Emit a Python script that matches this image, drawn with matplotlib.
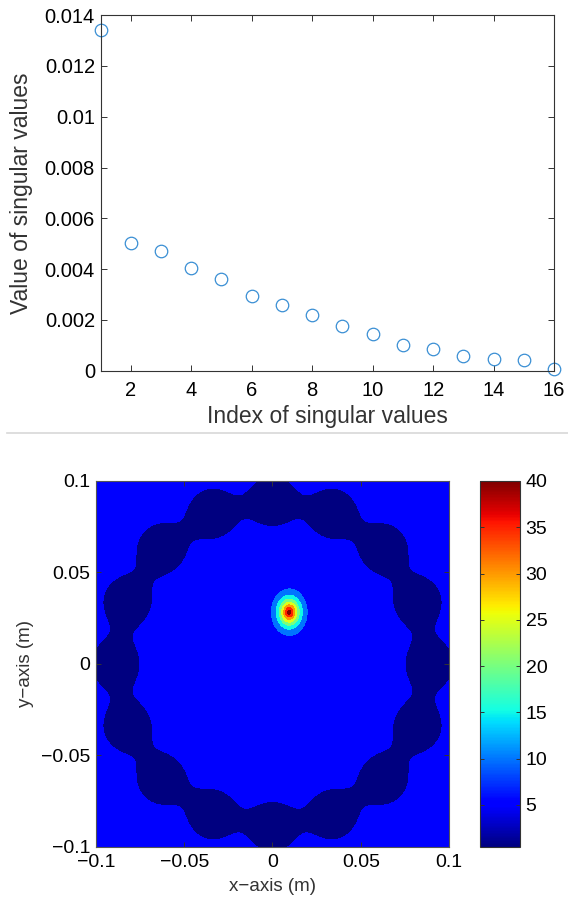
import numpy as np
import matplotlib
matplotlib.use('Agg')
import matplotlib.pyplot as plt
from matplotlib.colors import Normalize
from matplotlib.cm import ScalarMappable
from matplotlib.ticker import FuncFormatter
from matplotlib.lines import Line2D

plt.rcParams['font.family'] = ['Liberation Sans', 'DejaVu Sans']

# top panel: singular values
indices = np.arange(1, 17)
singular_values = [0.01341, 0.00501, 0.00472, 0.00404, 0.00360, 0.00294,
                   0.00257, 0.00218, 0.00177, 0.00146, 0.00101, 0.00084,
                   0.00059, 0.00045, 0.00041, 0.00008]
sv_xticks = [2, 4, 6, 8, 10, 12, 14, 16]
sv_yticks = [0, 0.002, 0.004, 0.006, 0.008, 0.01, 0.012, 0.014]

# bottom panel: imaging function on a 0.2 m x 0.2 m grid
grid_ticks = [-0.1, -0.05, 0, 0.05, 0.1]
field_levels = [0.45, 5, 10, 15, 20, 25, 30, 35, 40, 45]
cbar_ticks = [5, 10, 15, 20, 25, 30, 35, 40]
cbar_range = (0.45, 40)

background = 5.6          # level of the plain area
sensor_radius = 0.089     # radius of the 16 sensor ring (m)
sensor_angles = [0, 22.5, 45, 67.5, 90, 112.5, 135, 157.5,
                 180, 202.5, 225, 247.5, 270, 292.5, 315, 337.5]
dip_sigma = 0.0108        # width of the low spot around each sensor
dip_level = 0.447         # summed dip where the field crosses 5
target_xy = (0.0095, 0.0283)
target_peak = 42.6
target_scale = (0.00589, 0.0074)
target_shape = 1.4


def fmt(v, pos=None):
    return ('%g' % v).replace('-', '\u2212')


fig = plt.figure(figsize=(5.68, 9.0), dpi=100)

# ---- top panel
ax1 = fig.add_axes([0.177, 0.588, 0.7985, 0.3953])
ax1.plot(indices, singular_values, 'o', mfc='none', mec='#3a8fd4',
         ms=9, mew=0.9, clip_on=False)
ax1.set_xlim(1, 16)
ax1.set_ylim(0, 0.014)
ax1.set_xticks(sv_xticks)
ax1.set_yticks(sv_yticks)
ax1.yaxis.set_major_formatter(FuncFormatter(fmt))
ax1.tick_params(direction='in', top=True, right=True, length=4,
                labelsize=14.5, width=0.7, color='#333333')
ax1.tick_params(axis='x', pad=7)
ax1.tick_params(axis='y', pad=4)
ax1.set_xlabel('Index of singular values', fontsize=16.5, color='#333333')
ax1.set_ylabel('Value of singular values', fontsize=16.5, color='#333333')
ax1.xaxis.set_label_coords(0.5, -0.095)
ax1.yaxis.set_label_coords(-0.15, 0.5)
for s in ax1.spines.values():
    s.set_linewidth(0.8)
    s.set_color('#333333')

# separator
fig.add_artist(Line2D([0.012, 1.0], [0.5192, 0.5192], color='#d8d8d8', lw=1.2))

# ---- bottom panel
x = np.linspace(-0.1, 0.1, 501)
y = np.linspace(-0.1, 0.1, 501)
X, Y = np.meshgrid(x, y)
S = np.zeros_like(X)
for a in np.deg2rad(sensor_angles):
    cx, cy = sensor_radius * np.cos(a), sensor_radius * np.sin(a)
    S += np.exp(-((X - cx) ** 2 + (Y - cy) ** 2) / (2 * dip_sigma ** 2))
Z = background - (background - 5) / dip_level * S
rr = np.hypot((X - target_xy[0]) / target_scale[0], (Y - target_xy[1]) / target_scale[1])
Z = Z + (target_peak - background) * np.exp(-rr ** target_shape)

jet = plt.get_cmap('jet')
norm = Normalize(*cbar_range)
band_colors = [jet(norm(min(lv, cbar_range[1]))) for lv in field_levels[:-1]]

ax2 = fig.add_axes([0.169, 0.0589, 0.6215, 0.4067])
ax2.contourf(X, Y, Z, levels=field_levels, colors=band_colors)
ax2.set_xlim(-0.1, 0.1)
ax2.set_ylim(-0.1, 0.1)
ax2.set_xticks(grid_ticks)
ax2.set_yticks(grid_ticks)
ax2.xaxis.set_major_formatter(FuncFormatter(fmt))
ax2.yaxis.set_major_formatter(FuncFormatter(fmt))
ax2.tick_params(direction='in', top=True, right=True, length=3.5,
                labelsize=14, width=0.7, color='#333333')
ax2.tick_params(axis='x', pad=5)
ax2.tick_params(axis='y', pad=4)
ax2.set_xlabel('x\u2212axis (m)', fontsize=13.5, color='#333333')
ax2.set_ylabel('y\u2212axis (m)', fontsize=13.5, color='#333333')
ax2.xaxis.set_label_coords(0.5, -0.085)
ax2.yaxis.set_label_coords(-0.175, 0.5)
for s in ax2.spines.values():
    s.set_linewidth(0.8)
    s.set_color('#555555')

cax = fig.add_axes([0.845, 0.0589, 0.0704, 0.4067])
cb = fig.colorbar(ScalarMappable(norm=norm, cmap=jet), cax=cax)
cb.set_ticks(cbar_ticks)
cb.ax.tick_params(direction='in', left=True, right=True, length=3,
                  labelsize=14, width=0.7, pad=4, color='#333333')
cb.outline.set_linewidth(0.8)
cb.outline.set_edgecolor('#333333')

fig.savefig('out.png', dpi=100)
